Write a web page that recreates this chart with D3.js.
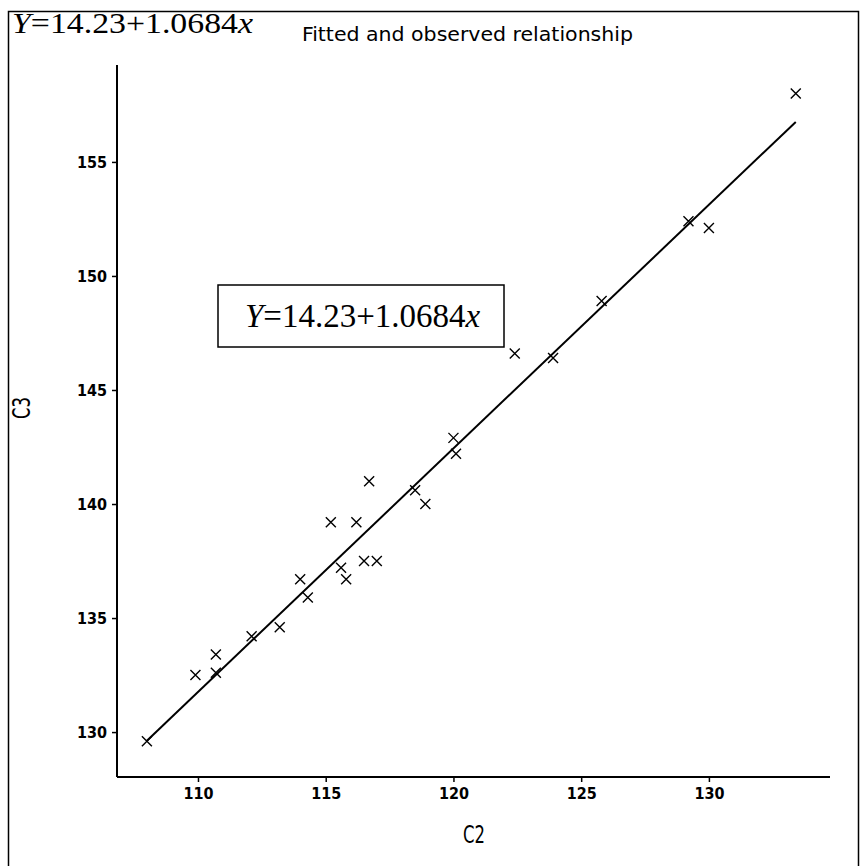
<!DOCTYPE html>
<html>
<head>
<meta charset="utf-8">
<script src="https://cdn.jsdelivr.net/npm/d3@7"></script>
<style>
  body { margin: 0; background: #fff; }
  svg { display: block; }
</style>
</head>
<body>
<div id="chart"></div>
<script>
var c2 = [108.0, 109.9, 110.7, 110.7, 112.1, 113.2, 114.0, 114.3, 115.2, 115.6, 115.8,
          116.2, 116.5, 116.7, 117.0, 118.5, 118.9, 120.0, 120.1, 122.4, 123.9, 125.8,
          129.2, 130.0, 133.4];
var c3 = [129.6, 132.5, 132.6, 133.4, 134.2, 134.6, 136.7, 135.9, 139.2, 137.2, 136.7,
          139.2, 137.5, 141.0, 137.5, 140.6, 140.0, 142.9, 142.2, 146.6, 146.4, 148.9,
          152.4, 152.1, 158.0];

// fitted line Y = a + b x
var intercept = 14.23, slope = 1.0684;
var fitRange = [108.0, 133.4];

var xTicks = [110, 115, 120, 125, 130];
var yTicks = [130, 135, 140, 145, 150, 155];

var W = 860, H = 866;
var plot = {left: 117, right: 830, top: 65, bottom: 777};

var svg = d3.select("#chart").append("svg")
    .attr("width", W)
    .attr("height", H);

// outer frame of the scanned figure
svg.append("path")
    .attr("d", "M8.5," + H + "V11.5H858.5V" + H)
    .attr("fill", "none")
    .attr("stroke", "#000")
    .attr("stroke-width", 1.5);

var x = d3.scaleLinear().domain([106.83, 134.74]).range([plot.left, plot.right]);
var y = d3.scaleLinear().domain([128.03, 159.25]).range([plot.bottom, plot.top]);

var tickFont = "'DejaVu Sans Condensed', 'DejaVu Sans', sans-serif";

var gx = svg.append("g")
    .attr("transform", "translate(0," + plot.bottom + ")")
    .call(d3.axisBottom(x).tickValues(xTicks).tickSize(5).tickSizeOuter(0).tickPadding(6));
var gy = svg.append("g")
    .attr("transform", "translate(" + plot.left + ",0)")
    .call(d3.axisLeft(y).tickValues(yTicks).tickSize(5).tickSizeOuter(0).tickPadding(5));

[gx, gy].forEach(function(g) {
  g.select(".domain").attr("stroke-width", 2);
  g.selectAll(".tick line").attr("stroke-width", 1.5);
  g.selectAll(".tick text")
      .style("font-family", tickFont)
      .style("font-size", "16px")
      .style("font-weight", "bold")
      .attr("fill", "#000");
});
gy.select(".domain").attr("d", "M0," + plot.top + "V" + plot.bottom);
gx.select(".domain").attr("d", "M" + plot.left + ",0H" + plot.right);

// fitted line
var line = d3.line()
    .x(function(d) { return x(d); })
    .y(function(d) { return y(intercept + slope * d); });
svg.append("path")
    .datum(fitRange)
    .attr("d", line)
    .attr("fill", "none")
    .attr("stroke", "#000")
    .attr("stroke-width", 2);

// observed points as crosses
var s = 5;
svg.selectAll("path.pt")
    .data(d3.range(c2.length))
    .enter()
    .append("path")
      .attr("class", "pt")
      .attr("d", function(i) {
        var px = x(c2[i]), py = y(c3[i]);
        return "M" + (px - s) + "," + (py - s) + "L" + (px + s) + "," + (py + s) +
               "M" + (px - s) + "," + (py + s) + "L" + (px + s) + "," + (py - s);
      })
      .attr("stroke", "#000")
      .attr("stroke-width", 1.4)
      .attr("fill", "none");

// equation text, Times-like
function equation(sel, size) {
  sel.style("font-family", "'Liberation Serif', 'Times New Roman', serif")
     .style("font-size", size + "px")
     .attr("fill", "#000");
  sel.append("tspan").style("font-style", "italic").text("Y");
  sel.append("tspan").text("=14.23+1.0684");
  sel.append("tspan").style("font-style", "italic").text("x");
}

svg.append("text")
    .attr("x", 12).attr("y", 33)
    .attr("textLength", 241)
    .attr("lengthAdjust", "spacingAndGlyphs")
    .call(equation, 29);

svg.append("rect")
    .attr("x", 218).attr("y", 285)
    .attr("width", 286).attr("height", 62)
    .attr("fill", "#fff")
    .attr("stroke", "#000")
    .attr("stroke-width", 1.5);
svg.append("text").attr("x", 245).attr("y", 327).call(equation, 33);

// title
svg.append("text")
    .attr("x", 302).attr("y", 41)
    .attr("textLength", 331)
    .attr("lengthAdjust", "spacingAndGlyphs")
    .style("font-family", tickFont)
    .style("font-size", "19px")
    .attr("fill", "#000")
    .text("Fitted and observed relationship");

// axis titles
svg.append("text")
    .attr("x", 474).attr("y", 843)
    .attr("text-anchor", "middle")
    .attr("textLength", 22)
    .attr("lengthAdjust", "spacingAndGlyphs")
    .style("font-family", tickFont)
    .style("font-size", "24px")
    .attr("fill", "#000")
    .text("C2");

svg.append("text")
    .attr("transform", "translate(30,408) rotate(-90)")
    .attr("text-anchor", "middle")
    .attr("textLength", 22)
    .attr("lengthAdjust", "spacingAndGlyphs")
    .style("font-family", tickFont)
    .style("font-size", "24px")
    .attr("fill", "#000")
    .text("C3");
</script>
</body>
</html>
